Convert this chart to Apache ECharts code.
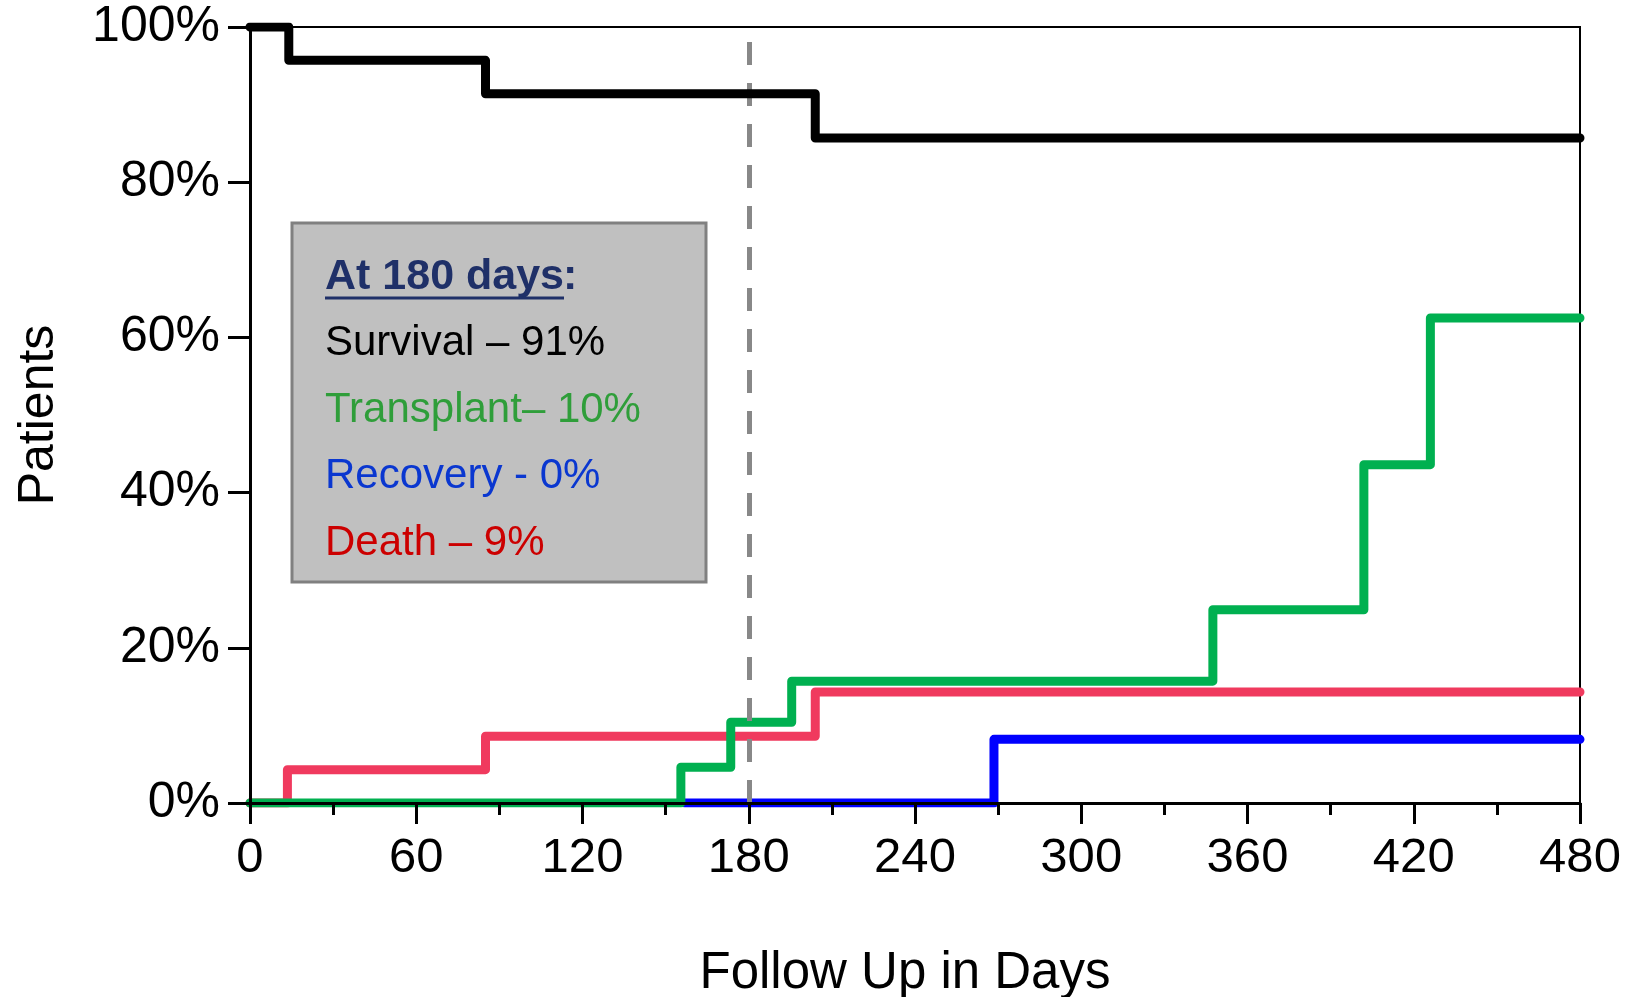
<!DOCTYPE html>
<html>
<head>
<meta charset="utf-8">
<script src="https://cdn.jsdelivr.net/npm/echarts@6/dist/echarts.min.js"></script>
<style>html,body{margin:0;padding:0;background:#fff}#c{width:1629px;height:997px}</style>
</head>
<body>
<div id="c"></div>
<script>
// Step data: [day, percent] change points (value holds until next point)
const survival   = [[0,100],[14,95.7],[85,91.4],[204,85.7],[480,85.7]];
const death      = [[0,0],[13.5,4.3],[85,8.6],[204,14.3],[480,14.3]];
const recovery   = [[157,0],[268.5,8.2],[480,8.2]];
const transplant = [[0,0],[155.5,4.6],[173.5,10.4],[195.5,15.7],[347.5,24.9],[402,43.6],[426,62.5],[480,62.5]];
const markDay = 180;
const xTicks = [0,60,120,180,240,300,360,420,480];
const yTicks = [0,20,40,60,80,100];
const summaryTitle = 'At 180 days';
const summaryLines = [
  {text:'Survival – 91%', color:'#000000'},
  {text:'Transplant– 10%', color:'#2f9e3a'},
  {text:'Recovery - 0%', color:'#0a37d0'},
  {text:'Death – 9%', color:'#cc0000'}
];

const FONT = '"Liberation Sans", Arial, sans-serif';
const chart = echarts.init(document.getElementById('c'));

function stepSeries(name, data, color, z) {
  return {
    name, type:'line', step:'end', data, symbol:'none', z,
    lineStyle:{color, width:9, cap:'round', join:'round'},
    animation:false
  };
}

const series = [
  stepSeries('Death', death, '#f03a5e', 2),
  stepSeries('Recovery', recovery, '#0000ff', 3),
  stepSeries('Transplant', transplant, '#00b050', 4),
  stepSeries('Survival', survival, '#000000', 5)
];
series[0].markLine = {
  silent:true, symbol:'none', label:{show:false},
  lineStyle:{color:'#888888', type:[23,18], width:5},
  data:[{xAxis:markDay}], animation:false
};

const lineGap = 66.5;
const graphics = [
  {type:'rect', shape:{x:292, y:223, width:414, height:359},
   style:{fill:'#c0c0c0', stroke:'#808080', lineWidth:3}, z:10},
  {type:'text', x:325, y:277, z:11,
   style:{text:summaryTitle, font:'bold 43px '+FONT, fill:'#1f3068', verticalAlign:'middle'}},
  {type:'text', x:325+238, y:277, z:11,
   style:{text:':', font:'bold 43px '+FONT, fill:'#1f3068', verticalAlign:'middle'}},
  {type:'line', z:11, shape:{x1:325, y1:298, x2:325+239, y2:298},
   style:{stroke:'#1f3068', lineWidth:3}}
];
summaryLines.forEach((l,i)=>{
  graphics.push({type:'text', x:325, y:277+lineGap*(i+1), z:11,
    style:{text:l.text, font:'42px '+FONT, fill:l.color, verticalAlign:'middle'}});
});

chart.setOption({
  animation:false,
  backgroundColor:'#ffffff',
  grid:{left:250, right:49, top:27, bottom:194, outerBoundsMode:'none', containLabel:false,
    show:true, borderColor:'#000', borderWidth:2, backgroundColor:'transparent'},
  xAxis:{
    type:'value', min:0, max:480, interval:60, z:10,
    name:'Follow Up in Days', nameLocation:'middle', nameGap:145,
    nameTextStyle:{fontFamily:FONT, fontSize:51, color:'#000', padding:[0,20,0,0]},
    axisLine:{show:true, lineStyle:{color:'#000', width:3}},
    axisTick:{show:true, length:21, lineStyle:{color:'#000', width:3}},
    minorTick:{show:true, splitNumber:2, length:12, lineStyle:{color:'#000', width:3}},
    axisLabel:{fontFamily:FONT, fontSize:49, color:'#000', margin:31,
      customValues: xTicks},
    splitLine:{show:false}
  },
  yAxis:{
    type:'value', min:0, max:100, interval:20, z:10,
    name:'Patients', nameLocation:'middle', nameGap:186, nameRotate:90,
    nameTextStyle:{fontFamily:FONT, fontSize:50, color:'#000'},
    axisLine:{show:true, lineStyle:{color:'#000', width:3}},
    axisTick:{show:true, length:22, lineStyle:{color:'#000', width:3}},
    axisLabel:{fontFamily:FONT, fontSize:50, color:'#000', margin:30,
      formatter: v => yTicks.includes(v) ? v + '%' : ''},
    splitLine:{show:false}
  },
  series,
  graphic: graphics
});
</script>
</body>
</html>
